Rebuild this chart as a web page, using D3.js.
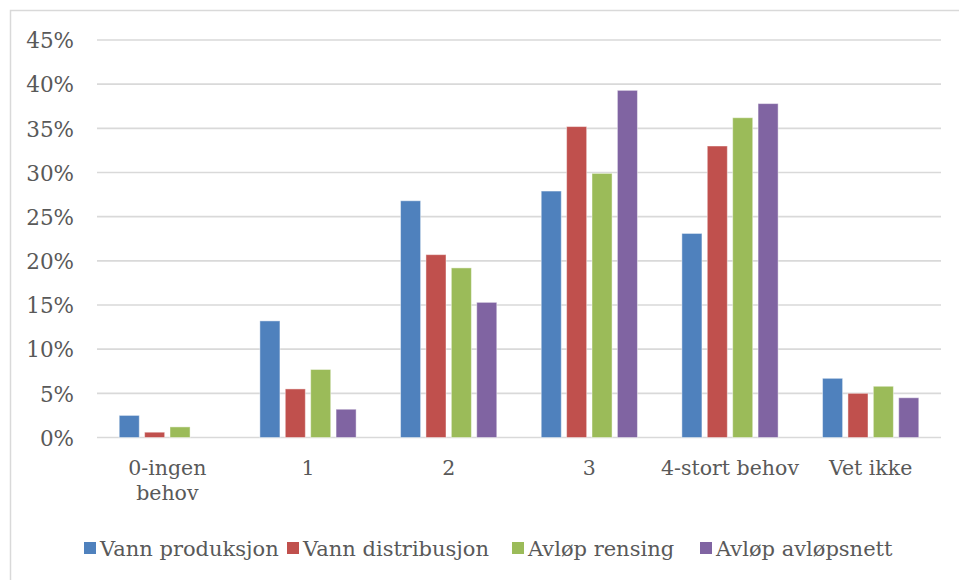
<!DOCTYPE html>
<html>
<head>
<meta charset="utf-8">
<script src="https://cdn.jsdelivr.net/npm/d3@7"></script>
<style>
  html, body { margin: 0; padding: 0; background: #fff; }
  svg { display: block; }
  text { font-family: "DejaVu Serif", "Liberation Serif", serif; fill: #595959; }
</style>
</head>
<body>
<svg id="chart" width="959" height="580"></svg>
<script>
// Categories along the x axis (the first label wraps onto two lines)
const categories = ["0-ingen behov", "1", "2", "3", "4-stort behov", "Vet ikke"];
const categoryLines = [["0-ingen", "behov"], ["1"], ["2"], ["3"], ["4-stort behov"], ["Vet ikke"]];

// Series names and colours
const seriesNames = ["Vann produksjon", "Vann distribusjon", "Avløp rensing", "Avløp avløpsnett"];
const seriesColors = ["#4F81BD", "#C0504D", "#9BBB59", "#8064A2"];

// Share of answers (%) per category, one array per series
const vannProduksjon   = [2.5, 13.2, 26.8, 27.9, 23.1, 6.7];
const vannDistribusjon = [0.6, 5.5, 20.7, 35.2, 33.0, 5.0];
const avlopRensing     = [1.2, 7.7, 19.2, 29.9, 36.2, 5.8];
const avlopAvlopsnett  = [0.0, 3.2, 15.3, 39.3, 37.8, 4.5];

const yTicks = [0, 5, 10, 15, 20, 25, 30, 35, 40, 45];

const seriesValues = [vannProduksjon, vannDistribusjon, avlopRensing, avlopAvlopsnett];

const svg = d3.select("#chart");

// Outer chart frame (only left and top edges fall inside the view)
svg.append("rect")
  .attr("x", 10.5).attr("y", 10.5)
  .attr("width", 1000).attr("height", 1000)
  .attr("fill", "none")
  .attr("stroke", "#D9D9D9")
  .attr("stroke-width", 1.5);

const plot = { left: 97, right: 941, top: 40, bottom: 437.5 };

const x = d3.scaleBand()
  .domain(categories)
  .range([plot.left, plot.right])
  .paddingInner(0).paddingOuter(0);

const xs = d3.scaleBand()
  .domain(seriesNames)
  .range([0, x.bandwidth()])
  .paddingInner(0.21)
  .paddingOuter(0.875);

const y = d3.scaleLinear()
  .domain([0, 45])
  .range([plot.bottom, plot.top]);

// Horizontal gridlines
svg.append("g")
  .selectAll("line")
  .data(yTicks)
  .join("line")
  .attr("x1", plot.left).attr("x2", plot.right)
  .attr("y1", d => y(d)).attr("y2", d => y(d))
  .attr("stroke", "#D9D9D9")
  .attr("stroke-width", 1.6);

// Y axis labels
const yAxis = d3.axisLeft(y)
  .tickValues(yTicks)
  .tickFormat(d => d + "%")
  .tickSize(0)
  .tickPadding(0);

const yG = svg.append("g")
  .attr("transform", `translate(74,0)`)
  .call(yAxis);
yG.select(".domain").remove();
yG.selectAll("text")
  .attr("font-family", "DejaVu Serif")
  .attr("font-size", 21.5)
  .attr("fill", "#595959")
  .attr("dy", "0.36em");

// Bars
const groups = svg.append("g")
  .selectAll("g")
  .data(seriesNames.map((name, i) => ({ name, color: seriesColors[i], values: seriesValues[i] })))
  .join("g")
  .attr("fill", d => d.color);

groups.selectAll("rect")
  .data(d => d.values.map((v, j) => ({ series: d.name, cat: categories[j], value: v })))
  .join("rect")
  .filter(d => d.value > 0)
  .attr("x", d => x(d.cat) + xs(d.series))
  .attr("width", xs.bandwidth())
  .attr("y", d => y(d.value))
  .attr("height", d => y(0) - y(d.value))
  .attr("stroke", "rgba(255,255,255,0.45)")
  .attr("stroke-width", 1);

// Category labels
const xLab = svg.append("g")
  .selectAll("text")
  .data(categories.map((c, i) => ({ c, lines: categoryLines[i] })))
  .join("text")
  .attr("text-anchor", "middle")
  .attr("font-size", 20.5)
  .attr("x", d => x(d.c) + x.bandwidth() / 2)
  .attr("y", 475);
xLab.selectAll("tspan")
  .data(d => d.lines.map((t, k) => ({ t, k, cx: x(d.c) + x.bandwidth() / 2 })))
  .join("tspan")
  .attr("x", d => d.cx)
  .attr("dy", d => d.k === 0 ? 0 : 25)
  .text(d => d.t);

// Legend
const legendX = [84, 287, 512, 700];
const legend = svg.append("g")
  .selectAll("g")
  .data(seriesNames.map((n, i) => ({ n, color: seriesColors[i], lx: legendX[i] })))
  .join("g")
  .attr("transform", d => `translate(${d.lx},0)`);
legend.append("rect")
  .attr("x", 0).attr("y", 542)
  .attr("width", 12).attr("height", 12)
  .attr("fill", d => d.color);
legend.append("text")
  .attr("x", 16).attr("y", 556)
  .attr("font-size", 21)
  .text(d => d.n);
</script>
</body>
</html>
